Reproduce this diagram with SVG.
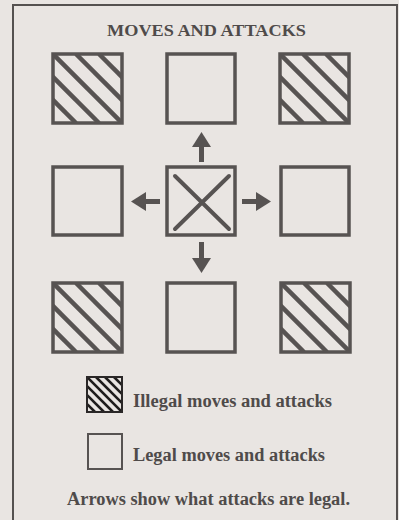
<svg xmlns="http://www.w3.org/2000/svg" width="399" height="520" viewBox="0 0 399 520">
<style>
.sq{fill:none;stroke:#575352;stroke-width:3.5}
.hl{stroke:#575352;stroke-width:4.5}
.hs{stroke:#1e1c1c;stroke-width:2.6}
.t{font-family:"Liberation Serif","DejaVu Serif",serif;font-weight:bold;fill:#4f4b4a}
.ar{fill:#575352}
</style>
<defs>
<clipPath id="cb"><rect x="0" y="0" width="69" height="69"/></clipPath>
<clipPath id="cs"><rect x="0" y="0" width="35" height="35"/></clipPath>
<g id="hatchBig">
<g clip-path="url(#cb)">
<line class="hl" x1="-46" y1="0" x2="23" y2="69"/>
<line class="hl" x1="-23" y1="0" x2="46" y2="69"/>
<line class="hl" x1="0" y1="0" x2="69" y2="69"/>
<line class="hl" x1="23" y1="0" x2="92" y2="69"/>
<line class="hl" x1="46" y1="0" x2="115" y2="69"/>
</g>
<rect class="sq" x="0" y="0" width="69" height="69"/>
</g>
<g id="hatchSmall">
<g clip-path="url(#cs)">
<line class="hs" x1="-27" y1="0" x2="8" y2="35"/>
<line class="hs" x1="-18" y1="0" x2="17" y2="35"/>
<line class="hs" x1="-9" y1="0" x2="26" y2="35"/>
<line class="hs" x1="0" y1="0" x2="35" y2="35"/>
<line class="hs" x1="9" y1="0" x2="44" y2="35"/>
<line class="hs" x1="18" y1="0" x2="53" y2="35"/>
<line class="hs" x1="27" y1="0" x2="62" y2="35"/>
</g>
<rect x="0" y="0" width="35" height="35" fill="none" stroke="#2a2727" stroke-width="2"/>
</g>
</defs>
<rect x="0" y="0" width="399" height="520" fill="#e9e5e2"/>
<rect x="13" y="5" width="384" height="530" fill="none" stroke="#555150" stroke-width="2"/>
<text class="t" x="107" y="36" font-size="17.5" textLength="199" lengthAdjust="spacingAndGlyphs">MOVES AND ATTACKS</text>

<g id="sq-top-left"><use href="#hatchBig" x="53" y="54"/></g>
<g id="sq-top-mid"><rect class="sq" x="167" y="54" width="68" height="69"/></g>
<g id="sq-top-right"><use href="#hatchBig" x="280" y="54"/></g>
<g id="sq-mid-left"><rect class="sq" x="53" y="167" width="69" height="68"/></g>
<g id="sq-center">
<rect class="sq" x="167" y="167" width="68" height="68"/>
<line x1="175" y1="176" x2="229" y2="229" stroke="#575352" stroke-width="4" stroke-linecap="round"/>
<line x1="229" y1="176" x2="175" y2="229" stroke="#575352" stroke-width="4" stroke-linecap="round"/>
</g>
<g id="sq-mid-right"><rect class="sq" x="281" y="167" width="68" height="68"/></g>
<g id="sq-bot-left"><use href="#hatchBig" x="53" y="283"/></g>
<g id="sq-bot-mid"><rect class="sq" x="167" y="283" width="68" height="69"/></g>
<g id="sq-bot-right"><use href="#hatchBig" x="281" y="283"/></g>

<g id="connectors">
<rect class="ar" x="199" y="146" width="5" height="16"/>
<polygon class="ar" points="201.5,132 192,147 211,147"/>
<rect class="ar" x="199" y="242" width="5" height="17"/>
<polygon class="ar" points="201.5,273 192,258 211,258"/>
<rect class="ar" x="144" y="199" width="16" height="5"/>
<polygon class="ar" points="131,201.5 146,192 146,211"/>
<rect class="ar" x="242" y="199" width="16" height="5"/>
<polygon class="ar" points="271,201.5 256,192 256,211"/>
</g>

<g id="legend-illegal">
<use href="#hatchSmall" x="87" y="377"/>
<text class="t" x="133" y="407" font-size="18" textLength="199" lengthAdjust="spacingAndGlyphs">Illegal moves and attacks</text>
</g>
<g id="legend-legal">
<rect x="88" y="434" width="34" height="35" fill="none" stroke="#575352" stroke-width="2"/>
<text class="t" x="133" y="461" font-size="18" textLength="192" lengthAdjust="spacingAndGlyphs">Legal moves and attacks</text>
</g>
<text class="t" x="67" y="505" font-size="18" textLength="283" lengthAdjust="spacingAndGlyphs">Arrows show what attacks are legal.</text>
</svg>
